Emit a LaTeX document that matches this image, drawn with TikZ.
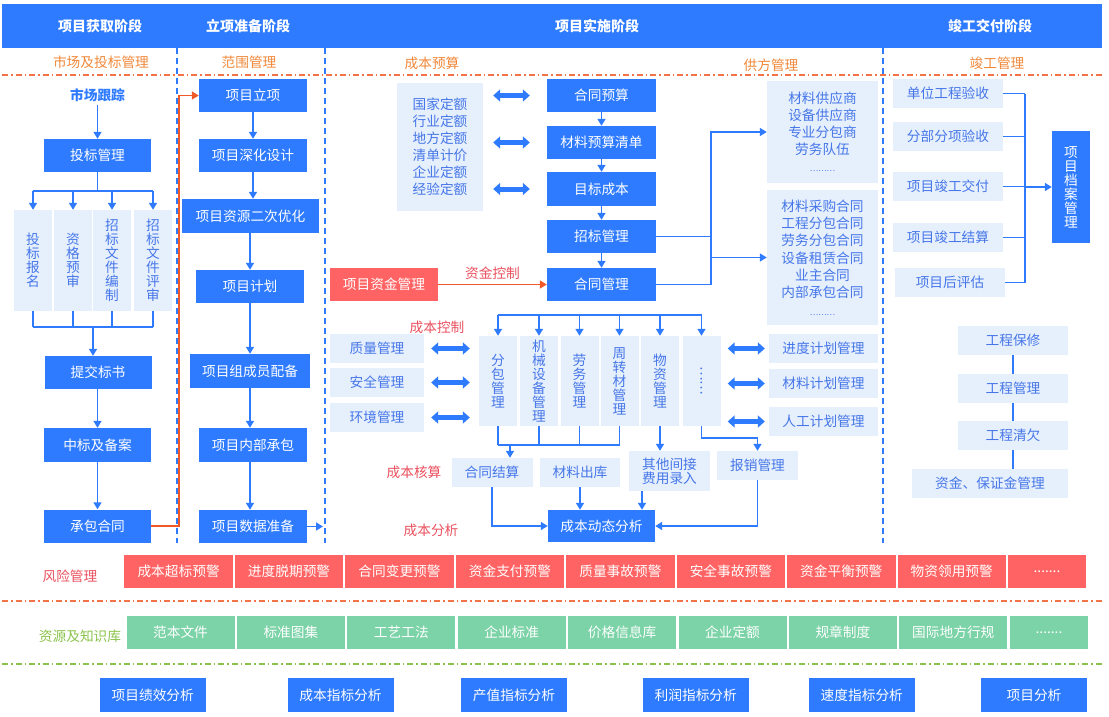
\documentclass[tikz,border=0pt]{standalone}
\usepackage{fontspec}
\setmainfont{Noto Sans CJK SC}
\usetikzlibrary{arrows.meta}
\definecolor{mainblue}{HTML}{2E7BFF}
\definecolor{lightfill}{HTML}{E6F0FD}
\definecolor{lighttext}{HTML}{4676E8}
\definecolor{redfill}{HTML}{FF6363}
\definecolor{redtext}{HTML}{E9505E}
\definecolor{greenfill}{HTML}{7BD3A7}
\definecolor{greentext}{HTML}{8BC34A}
\definecolor{orangetext}{HTML}{F0883A}
\definecolor{orangeline}{HTML}{F05A28}
\tikzset{
  wh/.style 2 args={minimum width=#1pt, minimum height=#2pt},
  bluebox/.style={fill=mainblue, text=white, inner sep=0pt, align=center},
  lightbox/.style={fill=lightfill, text=lighttext, inner sep=0pt, align=center},
  redbox/.style={fill=redfill, text=white, inner sep=0pt},
  greenbox/.style={fill=greenfill, text=white, inner sep=0pt},
  head/.style={text=white, font=\bfseries\fontsize{14}{15}\selectfont},
  grouplbl/.style={text=orangetext},
  redlbl/.style={text=redtext},
  line/.style={draw=mainblue, line width=1.6pt},
  conn/.style={line, -{Triangle[width=8pt,length=7pt]}},
  orangeconn/.style={draw=orangeline, line width=1.6pt, -{Triangle[width=8pt,length=7pt]}},
  dbl/.style={draw=mainblue, line width=5pt, {Triangle[width=12pt,length=7pt]}-{Triangle[width=12pt,length=7pt]}},
  stageline/.style={draw=mainblue, line width=1.5pt, dash pattern=on 6pt off 4pt},
  dashdot/.style={line width=1.2pt, dash pattern=on 6pt off 3pt on 1.5pt off 3pt},
}

\begin{document}
\begin{tikzpicture}[x=1pt, y=-1pt, font=\fontsize{13.7}{14}\selectfont]
  \useasboundingbox (0,0) rectangle (1109,716);

  % Draw the header
  \fill[mainblue] (2,4) rectangle (1102,48);
  \node[head] (hd1) at (100,26) {项目获取阶段};
  \node[head] (hd2) at (248,26) {立项准备阶段};
  \node[head] (hd3) at (597,26) {项目实施阶段};
  \node[head] (hd4) at (990,26) {竣工交付阶段};

  % Draw the stage borders
  \foreach \x in {177,325,883} {
    \draw[stageline] (\x,48) -- (\x,543);
  }
  \draw[dashdot, draw=orangeline!85] (2,75) -- (1102,75);

  \node[grouplbl] (g1) at (101,62) {市场及投标管理};
  \node[grouplbl] (g2) at (249,62) {范围管理};
  \node[grouplbl] (g3) at (432,63) {成本预算};
  \node[grouplbl] (g4) at (771,65) {供方管理};
  \node[grouplbl] (g5) at (997,63) {竣工管理};

  % Stage 1: bidding
  \node[text=mainblue, font=\bfseries\fontsize{13.7}{14}\selectfont] (sczz) at (97.5,95) {市场跟踪};
  \node[bluebox, wh={107}{33}] (tbgl) at (97.5,155.5) {投标管理};
  \foreach \i/\x/\t in {1/33/{投\\标\\报\\名}, 2/73/{资\\格\\预\\审},
                        3/112/{招\\标\\文\\件\\编\\制}, 4/153/{招\\标\\文\\件\\评\\审}} {
    \node[lightbox, wh={38}{101}] (tb\i) at (\x,260.5) {\t};
  }
  \node[bluebox, wh={107}{33}] (tjbs) at (98,372.5) {提交标书};
  \node[bluebox, wh={107}{34}] (zbba) at (97.5,445) {中标及备案};
  \node[bluebox, wh={107}{33}] (cbht) at (97.5,526) {承包合同};

  \draw[conn] (sczz.south) -- (tbgl.north);
  \coordinate (tbbus) at (97.5,191);
  \draw[line] (tbgl.south) -- (tbbus);
  \draw[line] (tb1.north |- tbbus) -- (tb4.north |- tbbus);
  \coordinate (bsbus) at (93,327);
  \draw[line] (tb1.south |- bsbus) -- (tb4.south |- bsbus);
  \foreach \i in {1,...,4} {
    \draw[conn] (tb\i.north |- tbbus) -- (tb\i.north);
    \draw[line] (tb\i.south) -- (tb\i.south |- bsbus);
  }
  \draw[conn] (bsbus) -- (bsbus |- tjbs.north);
  \draw[conn] (tjbs.south -| zbba.north) -- (zbba.north);
  \draw[conn] (zbba.south) -- (cbht.north);

  % Stage 2: project setup
  \node[bluebox, wh={108}{33}] (xmlx) at (253,95.5) {项目立项};
  \node[bluebox, wh={108}{33}] (xmsh) at (253,155.5) {项目深化设计};
  \node[bluebox, wh={137}{34}] (xmzy) at (250.5,216) {项目资源二次优化};
  \node[bluebox, wh={108}{33}] (xmjh) at (250,286.5) {项目计划};
  \node[bluebox, wh={120}{34}] (xmzc) at (250,371) {项目组成员配备};
  \node[bluebox, wh={108}{34}] (xmnb) at (253,445) {项目内部承包};
  \node[bluebox, wh={108}{33}] (xmsj) at (253,526.5) {项目数据准备};

  \coordinate (turn1) at (179,526);
  \draw[orangeconn] (cbht.east) -- (turn1) |- (xmlx.west);
  \draw[conn] (xmlx.south) -- (xmsh.north);
  \draw[conn] (xmsh.south) -- (xmsh.south |- xmzy.north);
  \draw[conn] (xmzy.south -| xmjh.north) -- (xmjh.north);
  \draw[conn] (xmjh.south) -- (xmzc.north);
  \draw[conn] (xmzc.south) -- (xmzc.south |- xmnb.north);
  \draw[conn] (xmzc.south |- xmnb.south) -- (xmzc.south |- xmsj.north);
  \coordinate (p2end) at (323,526.5);
  \draw[conn] (xmsj.east) -- (p2end);

  % Stage 3: cost budget
  \node[lightbox, wh={86}{128}, font=\fontsize{13.7}{17}\selectfont] (de) at (440,147)
    {国家定额\\行业定额\\地方定额\\清单计价\\企业定额\\经验定额};
  \node[bluebox, wh={109}{33}] (htys) at (601.5,95.5) {合同预算};
  \node[bluebox, wh={109}{33}] (clys) at (601.5,142.5) {材料预算清单};
  \node[bluebox, wh={109}{34}] (mbcb) at (601.5,189) {目标成本};
  \node[bluebox, wh={109}{33}] (zbgl) at (601.5,236.5) {招标管理};
  \node[bluebox, wh={109}{33}] (htgl) at (601.5,284.5) {合同管理};
  \node[redbox, wh={108}{33}] (zjgl) at (384,284.5) {项目资金管理};

  \foreach \n in {htys,clys,mbcb} {
    \draw[dbl, shorten <=10pt, shorten >=17pt] (de.east |- \n.west) -- (\n.west);
  }
  \draw[conn] (htys) -- (clys);
  \draw[conn] (clys) -- (mbcb);
  \draw[conn] (mbcb) -- (zbgl);
  \draw[conn] (zbgl) -- (htgl);
  \draw[orangeconn] (zjgl.east) -- node[midway, above=1pt, redlbl] {资金控制} (htgl.west);

  % Suppliers
  \node[lightbox, wh={111}{102}, font=\fontsize{13.7}{17}\selectfont] (gf1) at (822.5,132)
    {材料供应商\\设备供应商\\专业分包商\\劳务队伍\\{\fontsize{8}{17}\selectfont ………}};
  \node[lightbox, wh={111}{135}, font=\fontsize{13.7}{17.3}\selectfont] (gf2) at (822.5,257.5)
    {材料采购合同\\工程分包合同\\劳务分包合同\\设备租赁合同\\业主合同\\内部承包合同\\{\fontsize{8}{17}\selectfont ………}};
  \coordinate (gfx) at (711,0);
  \draw[line] (zbgl.east) -- (zbgl.east -| gfx);
  \draw[conn] (htgl.east) -| (gfx |- gf1.west) -- (gf1.west);
  \draw[conn] (gfx |- gf2.west) -- (gf2.west);

  % Cost control
  \node[redlbl] (lbkz) at (437,327) {成本控制};
  \foreach \i/\x/\t in {1/498/{分\\包\\管\\理}, 2/539/{机\\械\\设\\备\\管\\理},
                        3/579.5/{劳\\务\\管\\理}, 4/619.5/{周\\转\\材\\管\\理},
                        5/660/{物\\资\\管\\理}, 6/701.5/{\rotatebox{90}{……}}} {
    \node[lightbox, wh={38}{90}] (kz\i) at (\x,381) {\t};
  }
  \coordinate (kzbus) at (0,315);
  \draw[line] (kz1.north |- kzbus) -- (kz6.north |- kzbus);
  \foreach \i in {1,...,6} {
    \draw[conn] (kz\i.north |- kzbus) -- (kz\i.north);
  }
  \node[lightbox, wh={94}{29}] (zl) at (377,348.5) {质量管理};
  \node[lightbox, wh={94}{29}] (aq) at (377,382.5) {安全管理};
  \node[lightbox, wh={94}{29}] (hj) at (377,417.5) {环境管理};
  \node[lightbox, wh={109}{29}] (jd) at (823.5,348.5) {进度计划管理};
  \node[lightbox, wh={109}{29}] (cljh) at (823.5,383.5) {材料计划管理};
  \node[lightbox, wh={109}{29}] (rg) at (823.5,421.5) {人工计划管理};
  \foreach \n in {zl,aq,hj} {
    \draw[dbl, shorten <=7pt, shorten >=9pt] (\n.east) -- (\n.east -| kz1.west);
  }
  \foreach \n in {jd,cljh,rg} {
    \draw[dbl, shorten <=7pt, shorten >=4pt] (kz6.east |- \n.west) -- (\n.west);
  }

  % Cost accounting
  \node[redlbl] (lbhs) at (414,472) {成本核算};
  \node[lightbox, wh={81}{29}] (htjs) at (492,472.5) {合同结算};
  \node[lightbox, wh={80}{29}] (clck) at (580,472.5) {材料出库};
  \node[lightbox, wh={81}{40}] (qtfy) at (669.5,471) {其他间接\\费用录入};
  \node[lightbox, wh={81}{29}] (bxgl) at (757.5,465.5) {报销管理};
  \coordinate (hsbus) at (510,445);
  \foreach \i in {1,...,4} {
    \draw[line] (kz\i.south) -- (kz\i.south |- hsbus);
  }
  \draw[line] (kz1.south |- hsbus) -- (kz4.south |- hsbus);
  \draw[conn] (hsbus) -- (hsbus |- htjs.north);
  \draw[conn] (kz5.south) -- (kz5.south |- qtfy.north);
  \coordinate (bxturn) at (757.5,438);
  \draw[conn] (kz6.south) |- (bxturn) -- (bxgl.north);

  % Cost analysis
  \node[redlbl] (lbfx) at (431,530) {成本分析};
  \node[bluebox, wh={107}{32}] (cbfx) at (601.5,526) {成本动态分析};
  \draw[conn] (htjs.south) |- (cbfx.west);
  \draw[conn] (clck.south) -- (clck.south |- cbfx.north);
  \draw[conn] ([xshift=-27.5pt]qtfy.south) -- ([xshift=-27.5pt]qtfy.south |- cbfx.north);
  \draw[conn] (bxgl.south) |- (cbfx.east);

  % Stage 4: completion
  \node[lightbox, wh={110}{29}] (ys1) at (948,93.5) {单位工程验收};
  \node[lightbox, wh={110}{29}] (ys2) at (948,136.5) {分部分项验收};
  \node[lightbox, wh={110}{29}] (ys3) at (948,186.5) {项目竣工交付};
  \node[lightbox, wh={110}{29}] (ys4) at (948,237.5) {项目竣工结算};
  \node[lightbox, wh={110}{29}] (ys5) at (950,282.5) {项目后评估};
  \node[bluebox, wh={38}{112}] (dagl) at (1071,187) {项\\目\\档\\案\\管\\理};
  \coordinate (jgbus) at (1025,0);
  \foreach \i in {1,...,5} {
    \draw[line] (ys\i.east) -- (ys\i.east -| jgbus);
  }
  \draw[line] (jgbus |- ys1.east) -- (jgbus |- ys5.east);
  \draw[conn] (jgbus |- dagl.west) -- (dagl.west);

  \node[lightbox, wh={110}{29}] (bx) at (1013,340.5) {工程保修};
  \node[lightbox, wh={110}{29}] (gcgl) at (1013,388.5) {工程管理};
  \node[lightbox, wh={110}{29}] (gcqq) at (1013,435.5) {工程清欠};
  \node[lightbox, wh={156}{29}] (zjbz) at (990,483.5) {资金、保证金管理};
  \draw[line] (bx) -- (gcgl);
  \draw[line] (gcgl) -- (gcqq);
  \draw[line] (gcqq.south) -- (gcqq.south |- zjbz.north);

  % Risk management
  \node[redlbl] (lbfxgl) at (70,576) {风险管理};
  \foreach \t [count=\i from 0] in {成本超标预警,进度脱期预警,合同变更预警,资金支付预警,
                                    质量事故预警,安全事故预警,资金平衡预警,物资领用预警} {
    \node[redbox, wh={108.5}{33}] (fx\i) at (178.6+110.45*\i,571.5) {\t};
  }
  \node[redbox, wh={78}{33}] (fx8) at (1047,571.5) {.......};
  \draw[dashdot, draw=orangeline!85] (2,601) -- (1102,601);

  % Resources and knowledge base
  \node[text=greentext] (lbzy) at (80,636) {资源及知识库};
  \foreach \t [count=\i from 0] in {范本文件,标准图集,工艺工法,企业标准,
                                    价格信息库,企业定额,规章制度,国际地方行规} {
    \node[greenbox, wh={108}{33}] (zy\i) at (180.5+110.4*\i,632.5) {\t};
  }
  \node[greenbox, wh={78}{33}] (zy8) at (1049,632.5) {.......};
  \draw[dashdot, draw=greentext] (2,664) -- (1102,664);

  % Analysis
  \foreach \x/\t [count=\i] in {152.75/项目绩效分析, 340.5/成本指标分析, 514/产值指标分析,
                                695.75/利润指标分析, 861.8/速度指标分析, 1034/项目分析} {
    \node[bluebox, wh={106}{34}] (fa\i) at (\x,695) {\t};
  }
\end{tikzpicture}
\end{document}
